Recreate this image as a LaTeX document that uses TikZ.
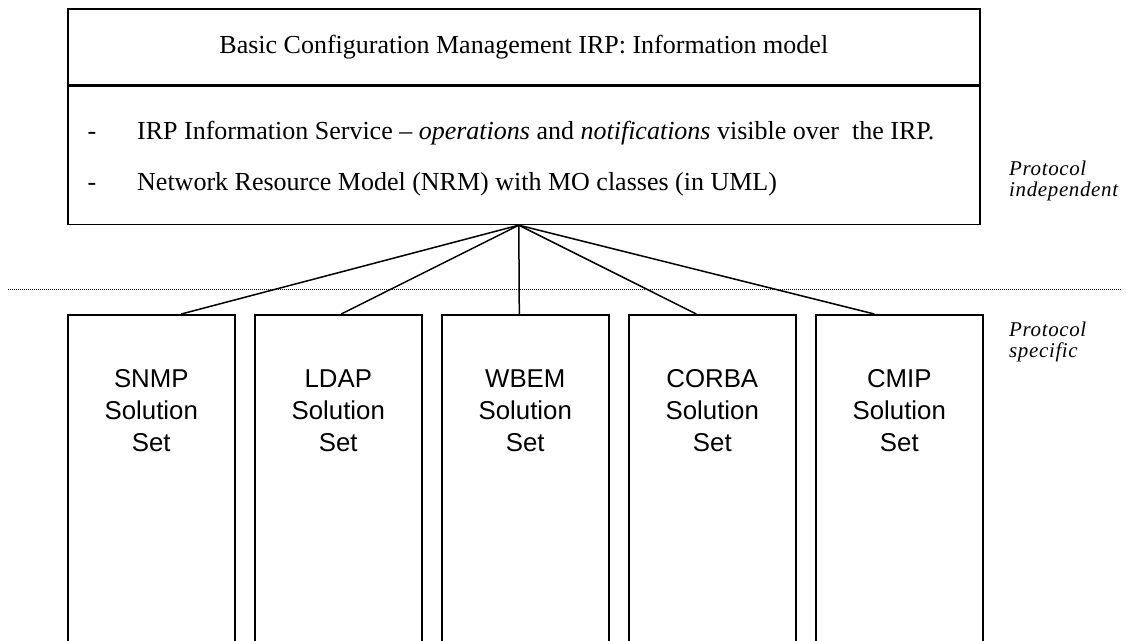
\documentclass[tikz,border=0pt]{standalone}
\usepackage{fontspec}
\setmainfont{Liberation Serif}
\newfontfamily\solfont{Liberation Sans}
\newfontfamily\sidefont{Liberation Serif}[LetterSpace=3]
\usetikzlibrary{positioning}
\tikzset{
  box/.style={draw, line width=1.6pt, inner sep=0pt},
  bodytext/.style={font=\fontsize{26}{31}\selectfont, inner sep=0pt},
  ssbox/.style={box, minimum width=167pt, minimum height=360pt, anchor=north west},
  sstext/.style={font=\solfont\fontsize{25.8}{32}\selectfont, align=center, inner sep=0pt, anchor=north},
  link/.style={line width=1.5pt},
  sep/.style={line width=0.8pt, dash pattern=on 0.8pt off 1.2pt},
  side/.style={font=\sidefont\itshape\fontsize{21}{21}\selectfont, align=left, inner sep=0pt, anchor=north west},
}
\begin{document}
\begin{tikzpicture}[x=1pt,y=-1pt]
  \clip (0,0) rectangle (1126,640);
  % information model
  \node[box, bodytext, minimum width=912pt, minimum height=76pt, anchor=north west] (head) at (67,8) {Basic Configuration Management IRP: Information model};
  \node[box, minimum width=912pt, minimum height=138pt, below=0pt of head] (body) {};
  \node[bodytext, anchor=base] (dash1) at (92,139) {-};
  \node[bodytext, anchor=base west] (svc) at (137,139) {IRP Information Service -- \textit{operations} and \textit{notifications} visible over\ \ the IRP.};
  \node[bodytext, anchor=base] (dash2) at (92,190) {-};
  \node[bodytext, anchor=base west] (nrm) at (137,190) {Network Resource Model (NRM) with MO classes (in UML)};
  % side labels
  \node[side] (indep) at (1009,161) {Protocol\\independent};
  \node[side] (spec) at (1009,322) {Protocol\\specific};
  % separator
  \coordinate (sepL) at (8,289);
  \coordinate (sepR) at (1121,289);
  \draw[sep] (sepL) -- (sepR);
  % solution sets
  \coordinate (hub) at ([xshift=-5pt]body.south);
  \foreach \nm/\proto/\dx [count=\i from 0] in {snmp/SNMP/30,ldap/LDAP/3,wbem/WBEM/-6,corba/CORBA/-16,cmip/CMIP/-25}{
    \node[ssbox] (\nm) at ({67+187*\i},314) {};
    \node[sstext] (\nm-txt) at ([yshift=-50.5pt]\nm.north) {\strut\proto\\Solution\\Set};
    \draw[link] (hub) -- ([xshift=\dx pt]\nm.north);
  }
\end{tikzpicture}
\end{document}
